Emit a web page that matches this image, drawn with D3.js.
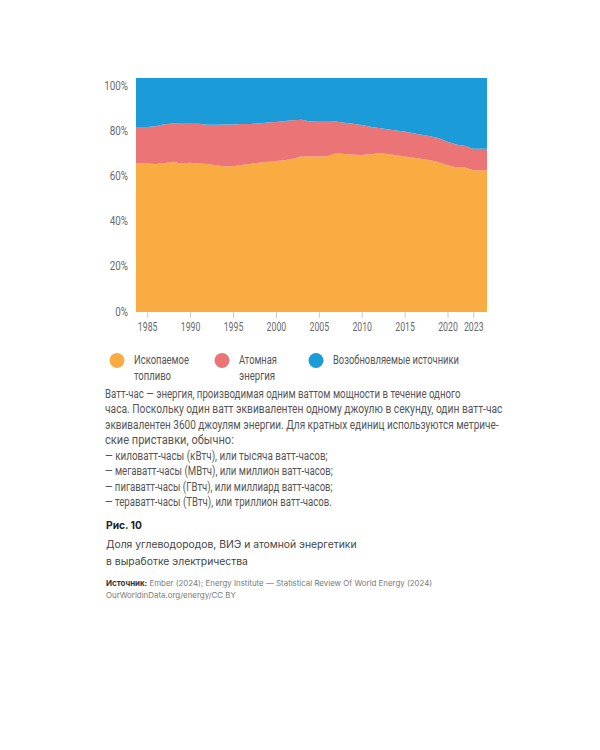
<!DOCTYPE html>
<html><head><meta charset="utf-8">
<script src="https://cdn.jsdelivr.net/npm/d3@7"></script>
<style>body{margin:0;background:#fff} svg{display:block}</style>
</head><body><svg id="c" width="600" height="750"></svg>
<script>
const years = [1985,1986,1987,1988,1989,1990,1991,1992,1993,1994,1995,1996,1997,1998,1999,2000,2001,2002,2003,2004,2005,2006,2007,2008,2009,2010,2011,2012,2013,2014,2015,2016,2017,2018,2019,2020,2021,2022,2023];
const fossil = [63.5,63.3,63.6,64.2,63.4,63.8,63.5,63.3,62.7,62.2,62.3,62.8,63.3,63.8,64.1,64.5,64.9,65.5,66.6,66.4,66.4,66.6,67.8,67.5,67.2,67.1,67.4,67.8,67.5,67.0,66.5,66.0,65.4,64.9,64.0,62.7,61.8,61.8,60.6];
const nuclear = [15.6,16.1,16.6,16.4,17.0,16.7,16.9,16.7,17.3,17.9,17.8,17.5,17.0,16.8,16.9,16.7,16.7,16.4,15.6,15.0,14.9,14.7,13.6,13.4,13.2,12.8,11.8,10.8,10.6,10.6,10.6,10.4,10.3,10.2,10.3,10.1,9.8,9.3,9.2];
const renewables = [20.9,20.6,19.8,19.4,19.6,19.5,19.6,20.0,20.0,19.9,19.9,19.7,19.7,19.4,19.0,18.8,18.4,18.1,17.8,18.6,18.7,18.7,18.6,19.1,19.6,20.1,20.8,21.4,21.9,22.4,22.9,23.6,24.3,24.9,25.7,27.2,28.4,28.9,30.2];
const seriesKeys = ["fossil","nuclear","renewables"];
const seriesNames = [["Ископаемое","топливо"],["Атомная","энергия"],["Возобновляемые источники"]];
const colors = ["#F8AC42","#EA7476","#1B9CD8"];
const yTicks = [0,20,40,60,80,100];
const xTicks = [1985,1990,1995,2000,2005,2010,2015,2020,2023];
const paragraph = [
 "Ватт-час — энергия, производимая одним ваттом мощности в течение одного",
 "часа. Поскольку один ватт эквивалентен одному джоулю в секунду, один ватт-час",
 "эквивалентен 3600 джоулям энергии. Для кратных единиц используются метриче-",
 "ские приставки, обычно:",
 "— киловатт-часы (кВтч), или тысяча ватт-часов;",
 "— мегаватт-часы (МВтч), или миллион ватт-часов;",
 "— пигаватт-часы (ГВтч), или миллиард ватт-часов;",
 "— тераватт-часы (ТВтч), или триллион ватт-часов."
];
const figLabel = "Рис. 10";
const captionLines = ["Доля углеводородов, ВИЭ и атомной энергетики","в выработке электричества"];
const sourceBold = "Источник:";
const sourceText = " Ember (2024); Energy Institute — Statistical Review Of World Energy (2024)";
const sourceLine2 = "OurWorldinData.org/energy/CC BY";

const svg = d3.select("#c");
const cond = "Roboto, 'DejaVu Sans', sans-serif";
const L = 136, R = 487, T = 78, B = 312;

// place a text at (px,py) horizontally scaled so its width becomes w
function placeFit(sel, px, py, w) {
  sel.attr("x", 0).attr("y", 0);
  const n = sel.node().getComputedTextLength();
  sel.attr("transform", `translate(${px},${py}) scale(${w / n},1)`);
  return sel;
}
function squeeze(sel, f) {
  sel.each(function() {
    const t = d3.select(this);
    const tr = t.attr("transform") || "";
    t.attr("transform", tr + ` scale(${f},1)`);
  });
}

const x = d3.scaleLinear().domain([1983.7, 2024.6]).range([L, R]);
const y = d3.scaleLinear().domain([0, 100]).range([B, T]);
const yLab = d3.scaleLinear().domain([0, 100]).range([311, 85]);

const rows = years.map((yr, i) => ({xv: yr, fossil: fossil[i], nuclear: nuclear[i], renewables: renewables[i]}));
const pts = [Object.assign({}, rows[0], {xv: x.domain()[0]}), ...rows, Object.assign({}, rows[rows.length-1], {xv: x.domain()[1]})];
const stacked = d3.stack().keys(seriesKeys)(pts);
const area = d3.area().x(d => x(d.data.xv)).y0(d => y(d[0])).y1(d => y(d[1]));
svg.append("g").selectAll("path").data(stacked).join("path")
  .attr("d", area).attr("fill", (d, i) => colors[i]);

// y axis
const ya = svg.append("g").attr("transform", `translate(${L-8},0)`)
  .call(d3.axisLeft(yLab).tickValues(yTicks).tickFormat(d => d + "%").tickSize(0).tickPadding(0));
ya.select(".domain").remove();
const yt = ya.selectAll("text").attr("font-family", cond).attr("font-size", 13).attr("fill", "#6a6a6a");
squeeze(yt, 0.76);

// x axis
const xa = svg.append("g").attr("transform", `translate(0,${B})`)
  .call(d3.axisBottom(x).tickValues(xTicks).tickFormat(d3.format("d")).tickSize(6).tickPadding(4));
xa.select(".domain").remove();
xa.selectAll("line").attr("stroke", "#c8c8c8");
const xt = xa.selectAll("text").attr("font-family", cond).attr("font-size", 12.5).attr("fill", "#6a6a6a");
squeeze(xt, 0.7);

// legend
const legX = [117, 222, 316];
const legW = [[55, 37], [38, 36], [126]];
const lg = svg.append("g");
seriesNames.forEach((nm, i) => {
  lg.append("circle").attr("cx", legX[i]).attr("cy", 360.5).attr("r", 7.5).attr("fill", colors[i]);
  nm.forEach((t, j) => {
    placeFit(lg.append("text").attr("font-family", cond).attr("font-size", 13).attr("fill", "#555").text(t),
      legX[i] + 17, 364 + j * 16, legW[i][j]);
  });
});

// paragraph
const paraW = [356, 398, 394, 129, 223, 228, 228, 227];
paragraph.forEach((t, i) => {
  placeFit(svg.append("text").attr("font-family", cond).attr("font-size", 13).attr("fill", "#555").text(t),
    105, 397.5 + i * 15.5, paraW[i]);
});

// caption
placeFit(svg.append("text").attr("font-family", "Inter, sans-serif")
  .attr("font-weight", 700).attr("font-size", 11).attr("fill", "#222").text(figLabel), 106, 529, 36);
const capW = [251, 142];
captionLines.forEach((t, i) => {
  placeFit(svg.append("text").attr("font-family", "Inter, sans-serif")
    .attr("font-size", 10.5).attr("fill", "#444").text(t), 106, 548 + i * 17, capW[i]);
});
const s1 = svg.append("text").attr("font-family", "Inter, sans-serif")
  .attr("font-size", 7.5).attr("fill", "#777");
s1.append("tspan").attr("font-weight", 700).attr("fill", "#333").text(sourceBold);
s1.append("tspan").text(sourceText);
placeFit(s1, 106, 586, 327);
placeFit(svg.append("text").attr("font-family", "Inter, sans-serif")
  .attr("font-size", 7.5).attr("fill", "#777").text(sourceLine2), 106, 598, 130);
</script></body></html>
